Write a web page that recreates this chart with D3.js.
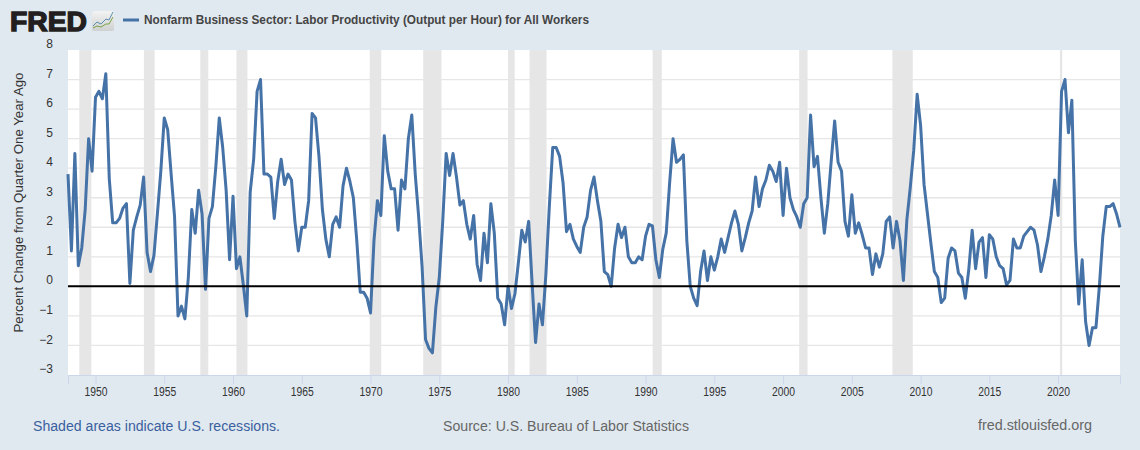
<!DOCTYPE html>
<html>
<head>
<meta charset="utf-8">
<script src="https://cdn.jsdelivr.net/npm/d3@7"></script>
<style>
  html, body { margin: 0; padding: 0; background: #e1e9f0; }
  svg { display: block; }
  text { font-family: "Liberation Sans", Arial, sans-serif; }
</style>
</head>
<body>
<script>
const width = 1140, height = 450;

// percent change from a year ago, quarterly, starts 1948 Q1
const firstYear = 1948;
const productivity = [
  3.8,1.2,4.5,0.7,1.3,2.6,5.0,3.9,6.4,6.6,6.35,7.2,3.65,2.15,2.15,2.3,2.65,2.8,0.1,1.9,
  2.35,2.75,3.7,1.15,0.5,1.05,2.45,3.9,5.7,5.3,3.8,2.35,-1.0,-0.67,-1.1,0.3,2.6,1.8,3.25,2.45,
  -0.1,2.3,2.7,4.05,5.7,4.7,3.25,0.9,3.05,0.6,1.0,0.05,-1.0,3.2,4.3,6.6,7.0,3.8,3.8,3.7,
  2.3,3.55,4.3,3.45,3.8,3.6,2.2,1.2,2.0,2.0,2.9,5.85,5.7,4.4,2.6,1.6,1.0,2.1,2.35,2.0,
  3.4,4.0,3.55,3.0,1.55,-0.2,-0.2,-0.4,-0.9,1.55,2.9,2.4,5.1,3.9,3.3,3.3,1.9,3.6,3.3,5.0,
  5.8,3.8,2.35,0.65,-1.8,-2.1,-2.25,-0.7,0.3,2.2,4.5,3.75,4.5,3.7,2.75,2.9,2.1,1.6,2.4,0.75,
  0.2,1.8,0.8,2.8,1.8,-0.4,-0.6,-1.3,0.0,-0.75,-0.25,0.8,1.9,1.5,2.2,0.1,-1.9,-0.6,-1.3,0.4,
  2.7,4.7,4.7,4.4,3.5,1.85,2.1,1.6,1.35,1.15,2.0,2.35,3.25,3.7,2.9,2.2,0.5,0.4,0.0,1.3,
  2.1,1.65,2.0,1.0,0.8,0.8,1.0,0.9,1.7,2.1,2.05,0.9,0.3,1.25,1.8,3.5,5.0,4.2,4.3,4.45,
  1.55,0.0,-0.4,-0.65,0.5,1.2,0.2,1.0,0.55,1.0,1.6,1.15,1.65,2.15,2.55,2.1,1.2,1.65,2.15,2.55,
  3.7,2.7,3.3,3.6,4.1,3.9,3.55,4.2,2.4,4.0,3.0,2.6,2.35,2.0,2.8,3.0,5.8,4.05,4.4,3.0,
  1.8,2.8,4.25,5.6,4.2,3.9,2.2,1.7,3.1,1.8,2.15,1.75,1.3,1.3,0.4,1.1,0.65,1.1,2.2,2.35,
  1.3,2.2,1.55,0.2,2.25,3.35,4.6,6.5,5.45,3.45,2.45,1.45,0.5,0.3,-0.55,-0.4,0.95,1.3,1.2,0.45,
  0.3,-0.4,0.55,1.9,0.6,1.5,1.65,0.3,1.75,1.6,1.0,0.7,0.6,0.05,0.2,1.6,1.3,1.3,1.7,1.85,
  2.0,1.9,1.4,0.5,1.0,1.6,2.4,3.6,2.4,6.6,7.0,5.2,6.3,1.55,-0.6,0.9,-1.2,-2.0,-1.4,-1.4,
  0,1.7,2.7,2.7,2.8,2.45,2.0
];

// recession bands in decimal years
const recessionStart = [1948.82,1953.52,1957.62,1960.25,1969.94,1973.83,1980.0,1981.56,1990.51,2001.17,2007.95,2020.13];
const recessionEnd   = [1949.7,1954.3,1958.2,1961.05,1970.78,1975.16,1980.48,1982.8,1991.18,2001.78,2009.43,2020.3];

const yearTicks = d3.range(1950, 2021, 5);
const valueTicks = d3.range(-3, 9);

const titleText = "Nonfarm Business Sector: Labor Productivity (Output per Hour) for All Workers";
const yAxisTitle = "Percent Change from Quarter One Year Ago";

const plot = { left: 68, right: 1120, top: 50, bottom: 375 };

const x = d3.scaleLinear().domain([firstYear, 2024.5]).range([plot.left, plot.right]);
const y = d3.scaleLinear().domain([-3, 8]).range([plot.bottom, plot.top]);

const svg = d3.select("body").append("svg").attr("width", width).attr("height", height);

svg.append("rect").attr("width", width).attr("height", height).attr("fill", "#e1e9f0");
svg.append("rect")
  .attr("x", plot.left).attr("y", plot.top)
  .attr("width", plot.right - plot.left).attr("height", plot.bottom - plot.top)
  .attr("fill", "#fff");

// grid
svg.append("g").selectAll("line").data(valueTicks.filter(d => d > -3 && d < 8)).join("line")
  .attr("x1", plot.left).attr("x2", plot.right)
  .attr("y1", d => y(d)).attr("y2", d => y(d))
  .attr("stroke", "#e6e6e6").attr("stroke-width", 1.3);

// recessions
svg.append("g").selectAll("rect").data(recessionStart).join("rect")
  .attr("x", d => x(d))
  .attr("width", (d, i) => x(recessionEnd[i]) - x(d))
  .attr("y", plot.top).attr("height", plot.bottom - plot.top)
  .attr("fill", "#e6e6e6");

// x axis
const xAxis = d3.axisBottom(x).tickValues(yearTicks).tickFormat(d3.format("d")).tickSize(9).tickPadding(3);
const gx = svg.append("g").attr("transform", `translate(0,${plot.bottom})`).call(xAxis);
gx.select(".domain").attr("stroke", "#ccd6eb");
gx.selectAll("line").attr("stroke", "#ccd6eb");
gx.selectAll("text").attr("fill", "#333").attr("font-size", 12)
  .attr("textLength", 23).attr("lengthAdjust", "spacingAndGlyphs");

// y labels sit above the gridlines
const yAxis = d3.axisLeft(y).tickValues(valueTicks).tickSize(0).tickPadding(15);
const gy = svg.append("g").attr("transform", `translate(${plot.left},0)`).call(yAxis);
gy.select(".domain").remove();
gy.selectAll("text").attr("fill", "#333").attr("font-size", 12).attr("dy", "-0.2em");

svg.append("text")
  .attr("transform", `translate(23,${(plot.top + plot.bottom) / 2 - 10}) rotate(-90)`)
  .attr("text-anchor", "middle")
  .attr("font-size", 13).attr("fill", "#333")
  .attr("textLength", 260).attr("lengthAdjust", "spacingAndGlyphs")
  .text(yAxisTitle);

// series
const line = d3.line().x((d, i) => x(firstYear + i / 4)).y(d => y(d));
svg.append("path").datum(productivity)
  .attr("d", line)
  .attr("fill", "none")
  .attr("stroke", "#4572a7")
  .attr("stroke-width", 3)
  .attr("stroke-linejoin", "round");

// zero line
svg.append("line")
  .attr("x1", plot.left).attr("x2", plot.right)
  .attr("y1", y(0)).attr("y2", y(0))
  .attr("stroke", "#000").attr("stroke-width", 2);

// legend
svg.append("line").attr("x1", 123).attr("x2", 139).attr("y1", 20).attr("y2", 20)
  .attr("stroke", "#4572a7").attr("stroke-width", 3);
svg.append("text").attr("x", 144).attr("y", 24)
  .attr("font-size", 12).attr("font-weight", "bold").attr("fill", "#444")
  .attr("textLength", 445).attr("lengthAdjust", "spacingAndGlyphs")
  .text(titleText);

// logo
svg.append("text").attr("x", 10).attr("y", 31)
  .attr("font-size", 28).attr("font-weight", "bold").attr("fill", "#231f20")
  .attr("stroke", "#231f20").attr("stroke-width", 1.4)
  .attr("textLength", 77).attr("lengthAdjust", "spacingAndGlyphs")
  .text("FRED");
const tile = svg.append("defs").append("linearGradient").attr("id", "tile").attr("x2", 0).attr("y2", 1);
tile.append("stop").attr("offset", 0).attr("stop-color", "#f2f3f2");
tile.append("stop").attr("offset", 1).attr("stop-color", "#cfd1d0");
svg.append("rect").attr("x", 92).attr("y", 11).attr("width", 22).attr("height", 20).attr("rx", 2).attr("fill", "url(#tile)");
svg.append("polyline").attr("points", "93,26 97,22 101,24 106,19 109,20 113,12")
  .attr("fill", "none").attr("stroke", "#5b8fb0");
svg.append("polyline").attr("points", "93,28 97,26 101,27 106,24 109,24 113,17")
  .attr("fill", "none").attr("stroke", "#7aa146");

// footer
svg.append("text").attr("x", 33).attr("y", 431).attr("font-size", 14).attr("fill", "#3a5f9e")
  .attr("textLength", 247).attr("lengthAdjust", "spacingAndGlyphs")
  .text("Shaded areas indicate U.S. recessions.");
svg.append("text").attr("x", 443).attr("y", 431).attr("font-size", 14).attr("fill", "#666")
  .attr("textLength", 246).attr("lengthAdjust", "spacingAndGlyphs")
  .text("Source: U.S. Bureau of Labor Statistics");
svg.append("text").attr("x", 978).attr("y", 430).attr("font-size", 14).attr("fill", "#666")
  .attr("textLength", 114).attr("lengthAdjust", "spacingAndGlyphs")
  .text("fred.stlouisfed.org");
</script>
</body>
</html>
